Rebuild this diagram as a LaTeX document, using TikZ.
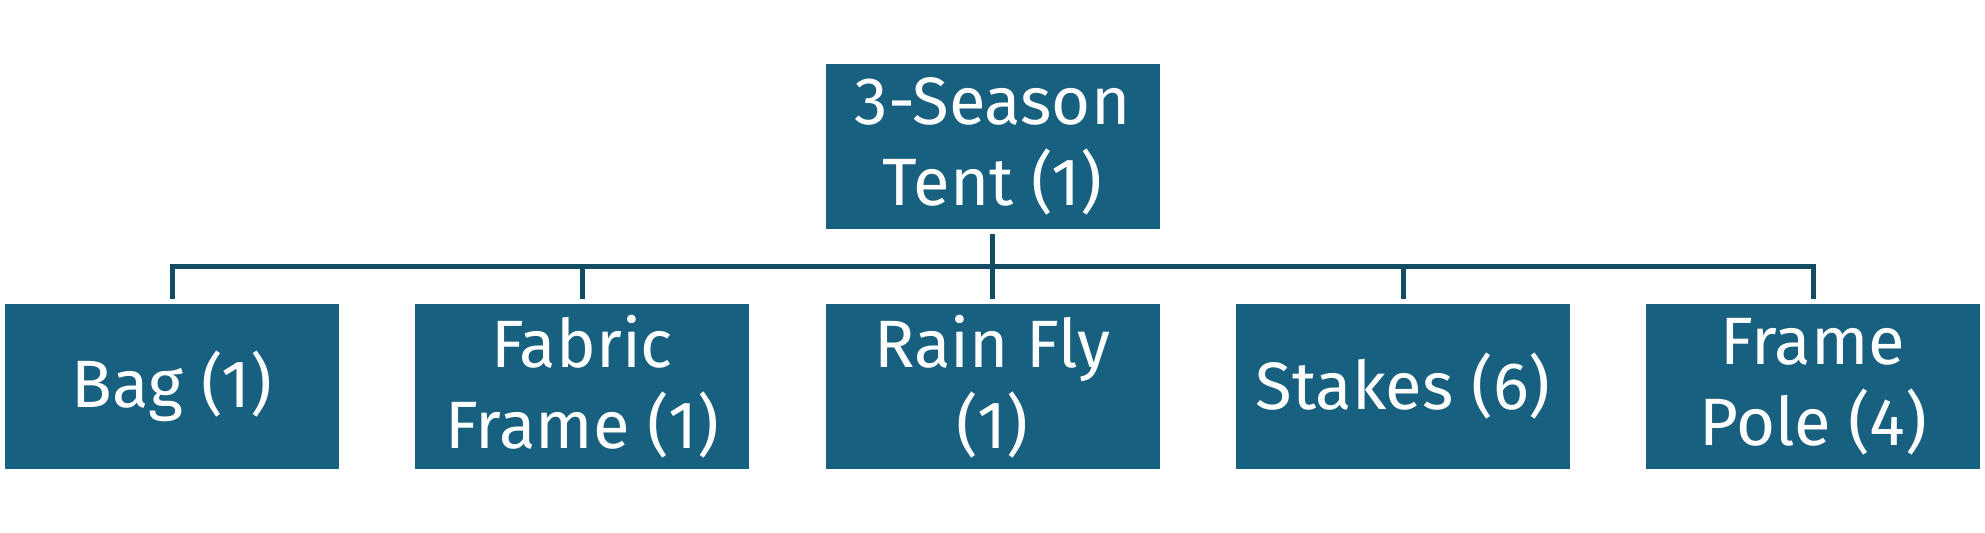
\documentclass[tikz,border=0pt]{standalone}
\usepackage{fontspec}
\setmainfont{Fira Sans}
\definecolor{boxfill}{HTML}{17607F}
\definecolor{linec}{HTML}{124B63}
\begin{document}
\begin{tikzpicture}[x=0.5pt,y=-0.5pt,
  partbox/.style={fill=boxfill, draw=none, text=white, minimum width=167pt, minimum height=82.5pt,
    inner sep=0pt, align=center, font=\fontsize{33.5pt}{40.5pt}\selectfont},
  conn/.style={draw=linec, line width=2.5pt}]
\useasboundingbox (0,0) rectangle (1985,532);
\node[partbox] (top) at (992.5,146) {3-Season\\Tent (1)};
\node[partbox] (bag) at (172,386.5) {Bag (1)};
\node[partbox] (fabric) at (582,386.5) {Fabric\\Frame (1)};
\node[partbox] (rain) at (992.5,386.5) {Rain Fly\\(1)};
\node[partbox] (stakes) at (1403,386.5) {Stakes (6)};
\node[partbox] (pole) at (1813,386.5) {Frame\\Pole (4)};
\coordinate (bar) at (992.5,266);
\draw[conn] ([yshift=-2.5pt]top.south) -- ([yshift=2.5pt]rain.north);
\draw[conn] ([yshift=2.5pt]bag.north) |- (bar);
\draw[conn] ([yshift=2.5pt]pole.north) |- (bar);
\draw[conn] ([yshift=2.5pt]fabric.north) -- (fabric.north |- bar);
\draw[conn] ([yshift=2.5pt]stakes.north) -- (stakes.north |- bar);
\end{tikzpicture}
\end{document}
